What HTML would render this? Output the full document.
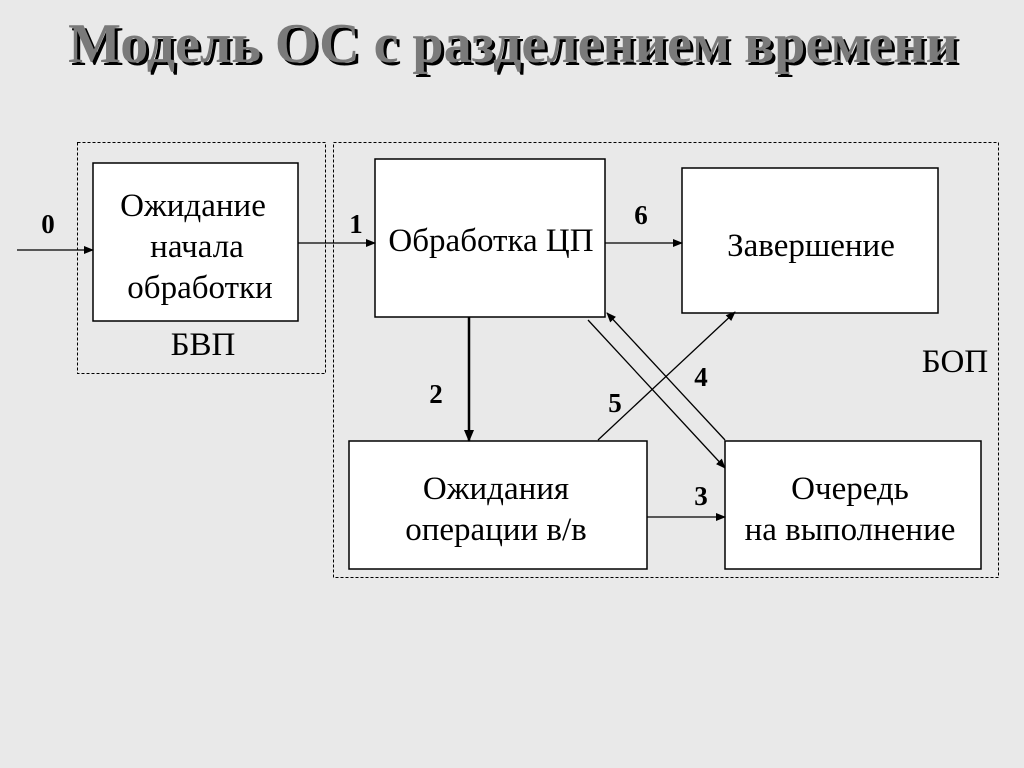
<!DOCTYPE html>
<html><head><meta charset="utf-8"><style>
body{margin:0;background:#e9e9e9;}
svg{display:block}
text{font-family:"Liberation Serif",serif;}
</style></head><body>
<svg width="1024" height="768" viewBox="0 0 1024 768">
<defs><marker id="a" markerWidth="10" markerHeight="8" refX="9" refY="4" orient="auto" markerUnits="userSpaceOnUse"><path d="M0,0 L10,4 L0,8 z" fill="#000"/></marker>
<marker id="b" markerWidth="12" markerHeight="10" refX="11" refY="5" orient="auto" markerUnits="userSpaceOnUse"><path d="M0,0 L12,5 L0,10 z" fill="#000"/></marker></defs>
<g font-size="56" font-weight="bold" text-anchor="middle">
<text x="516" y="65" fill="#000">Модель ОС с разделением времени</text>
<text x="513" y="62" fill="#7a7a7a">Модель ОС с разделением времени</text>
</g>
<g fill="none" stroke="#000" stroke-width="1" stroke-dasharray="3,2">
<rect x="77.5" y="142.5" width="248" height="231"/>
<rect x="333.5" y="142.5" width="665" height="435"/>
</g>
<g fill="#fff" stroke="#000" stroke-width="1.5">
<rect x="93" y="163" width="205" height="158"/>
<rect x="375" y="159" width="230" height="158"/>
<rect x="682" y="168" width="256" height="145"/>
<rect x="349" y="441" width="298" height="128"/>
<rect x="725" y="441" width="256" height="128"/>
</g>
<g stroke="#000" stroke-width="1.3" fill="none">
<line x1="17" y1="250" x2="93" y2="250" marker-end="url(#a)"/>
<line x1="298" y1="243" x2="375" y2="243" marker-end="url(#a)"/>
<line x1="605" y1="243" x2="682" y2="243" marker-end="url(#a)"/>
<line x1="647" y1="517" x2="725" y2="517" marker-end="url(#a)"/>
<line x1="469" y1="317" x2="469" y2="441" stroke-width="2.5" marker-end="url(#b)"/>
<line x1="588" y1="320" x2="725" y2="468" marker-end="url(#a)"/>
<line x1="725" y1="440" x2="607" y2="313" marker-end="url(#a)"/>
<line x1="598" y1="440" x2="735" y2="312" marker-end="url(#a)"/>
</g>
<g font-size="33" text-anchor="middle" fill="#000">
<text x="193" y="216">Ожидание</text>
<text x="197" y="257">начала</text>
<text x="200" y="298">обработки</text>
<text x="491" y="251">Обработка ЦП</text>
<text x="811" y="256">Завершение</text>
<text x="496" y="499">Ожидания</text>
<text x="496" y="540">операции в/в</text>
<text x="850" y="499">Очередь</text>
<text x="850" y="540">на выполнение</text>
<text x="203" y="355">БВП</text>
<text x="955" y="372">БОП</text>
</g>
<g font-size="27" font-weight="bold" text-anchor="middle" fill="#000">
<text x="48" y="233">0</text>
<text x="356" y="233">1</text>
<text x="641" y="224">6</text>
<text x="436" y="403">2</text>
<text x="615" y="412">5</text>
<text x="701" y="386">4</text>
<text x="701" y="505">3</text>
</g>
</svg>
</body></html>
